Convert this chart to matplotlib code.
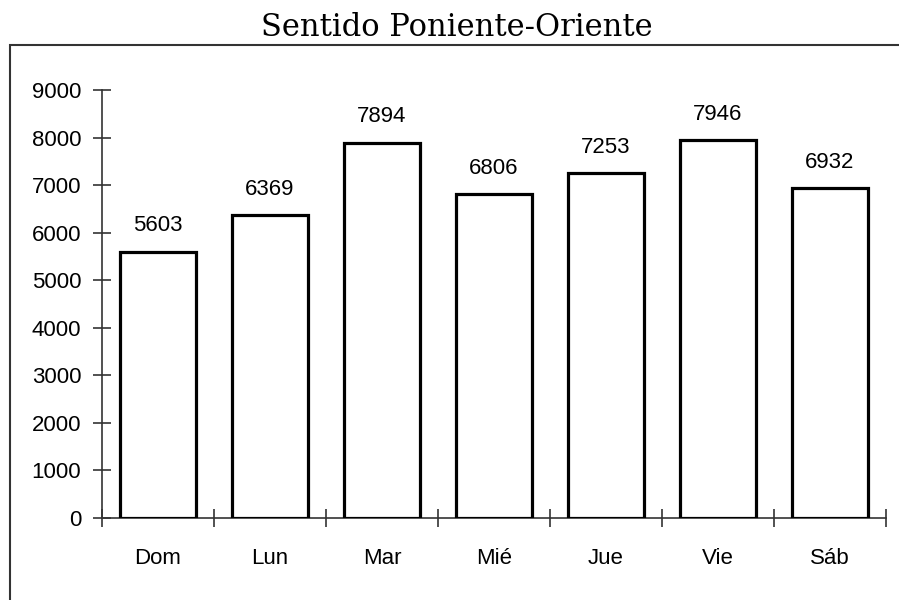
import matplotlib
matplotlib.use("Agg")
import matplotlib.pyplot as plt
from matplotlib.patches import Rectangle
from matplotlib.ticker import FixedLocator, NullFormatter

days = ["Dom", "Lun", "Mar", "Mié", "Jue", "Vie", "Sáb"]
vehicles = [5603, 6369, 7894, 6806, 7253, 7946, 6932]
y_ticks = [0, 1000, 2000, 3000, 4000, 5000, 6000, 7000, 8000, 9000]
title = "Sentido Poniente-Oriente"

W, H = 899, 600
fig = plt.figure(figsize=(W / 100, H / 100), dpi=100)
fig.patch.set_facecolor("white")

# outer frame around the chart area (runs off the right and bottom edges)
fig.add_artist(Rectangle((10 / W, -0.02), 1.1, 1 - 45 / H + 0.02,
                         transform=fig.transFigure, fill=False,
                         edgecolor="#333333", linewidth=1.5))

fig.text(457 / W, 1 - 36 / H, title, ha="center", va="baseline",
         fontsize=22, family="DejaVu Serif")

ax = fig.add_axes([102 / W, 1 - 518 / H, (886 - 102) / W, (518 - 90) / H])
x = list(range(len(days)))
ax.bar(x, vehicles, width=0.68, color="white", edgecolor="black", linewidth=2.3, zorder=3)

font = dict(family="Liberation Sans", fontsize=16)
for xi, v in zip(x, vehicles):
    ax.annotate(f"{v}", (xi, v), xytext=(0, 14.5), textcoords="offset points",
                ha="center", va="baseline", **font)

ax.set_xlim(-0.5, len(days) - 0.5)
ax.set_ylim(0, 9000)
for s in ["top", "right"]:
    ax.spines[s].set_visible(False)
for s in ["left", "bottom"]:
    ax.spines[s].set_color("#333333")
    ax.spines[s].set_linewidth(1.2)

ax.set_yticks(y_ticks)
ax.set_yticklabels([str(t) for t in y_ticks], **font)
ax.tick_params(axis="y", direction="inout", length=13, width=1.2, color="#333333", pad=8.5)

ax.set_xticks(x)
ax.set_xticklabels(days, **font)
ax.tick_params(axis="x", which="major", length=0, pad=21.5)
ax.xaxis.set_minor_locator(FixedLocator([i - 0.5 for i in range(len(days) + 1)]))
ax.xaxis.set_minor_formatter(NullFormatter())
ax.tick_params(axis="x", which="minor", direction="inout", length=13, width=1.2, color="#333333")

fig.savefig("out.png", dpi=100, facecolor="white")
